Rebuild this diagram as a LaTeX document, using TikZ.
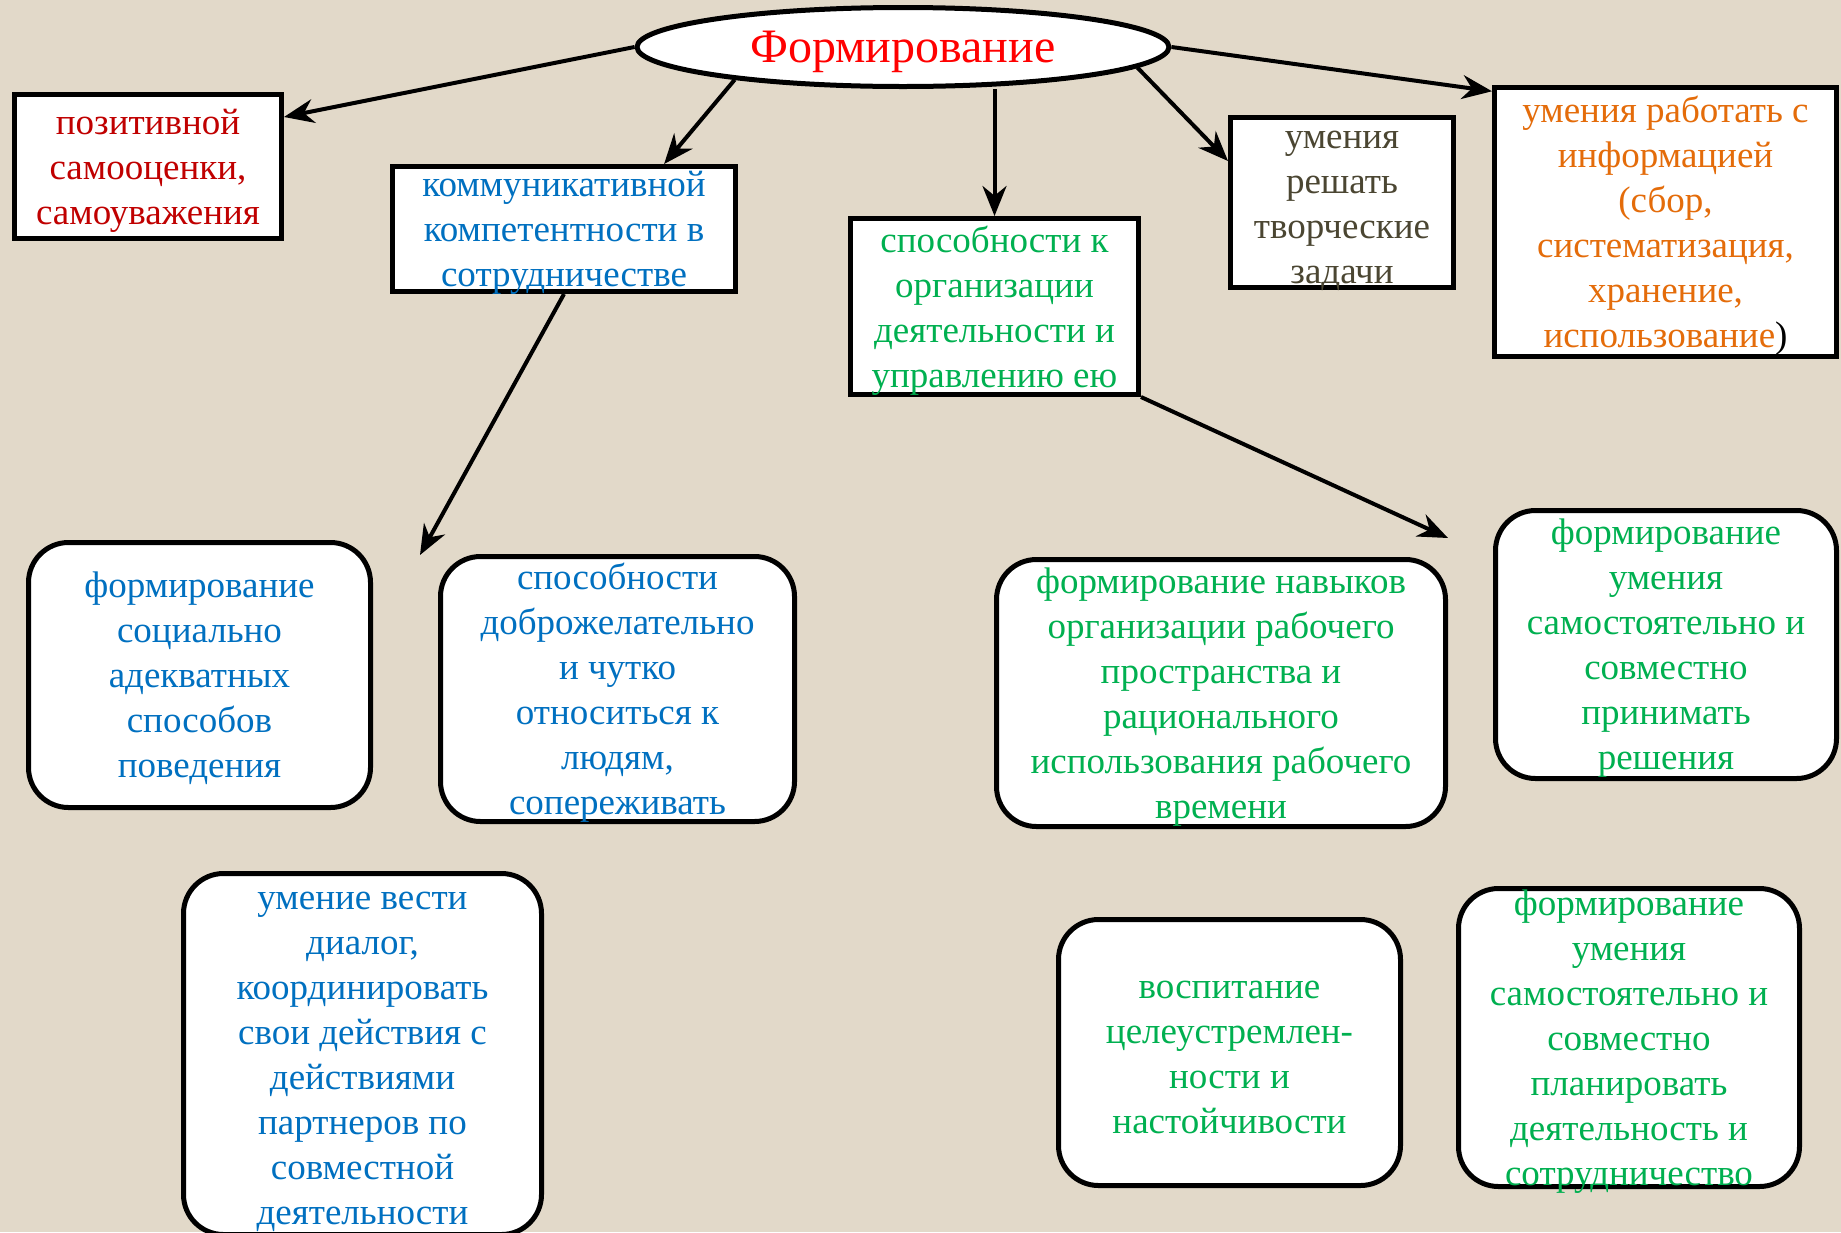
\documentclass[tikz,border=0pt]{standalone}
\usepackage{fontspec}
\setmainfont{Liberation Serif}
\usetikzlibrary{arrows.meta,shapes.geometric}
\definecolor{bgbeige}{HTML}{E2D9C9}
\definecolor{txtred}{HTML}{C00000}
\definecolor{txtblue}{HTML}{0070C0}
\definecolor{txtgreen}{HTML}{00B050}
\definecolor{txtorange}{HTML}{E46C0A}
\definecolor{txtolive}{HTML}{4B4632}
\newcommand{\capstrut}{\rule{0pt}{26pt}}

\begin{document}
\begin{tikzpicture}[x=1pt,y=-1pt,
  sqbox/.style={draw,line width=5pt,fill=white,rectangle,inner sep=0pt,
    align=center,text depth=-4pt,font=\fontsize{37}{45}\selectfont},
  rbox/.style={sqbox,rounded corners=40pt},
  arr/.style={-{Stealth[length=30pt,width=24pt]},line width=4pt}]
  \fill[bgbeige](0,0)rectangle(1841,1232);
  \useasboundingbox(0,0)rectangle(1841,1232);
  \node[draw,ellipse,line width=5pt,fill=white,inner sep=0pt,
    minimum width=532pt,minimum height=79pt,text=red,text depth=0pt,
    font=\fontsize{48}{52}\selectfont](form)at(903,47){Формирование};
  \node[sqbox,minimum width=267pt,minimum height=144pt,text=txtred](poz)
    at(148,166.5){позитивной\\самооценки,\\самоуважения};
  \node[sqbox,minimum width=343pt,minimum height=125pt,text=txtblue](komm)
    at(564,229){коммуникативной\\компетентности в\\сотрудничестве};
  \node[sqbox,minimum width=288pt,minimum height=176pt,text=txtgreen](sposob)
    at(994.5,306.5){способности к\\организации\\деятельности и\\управлению ею};
  \node[sqbox,minimum width=223pt,minimum height=170pt,text=txtolive](resh)
    at(1342,202.5){\capstrut умения\\решать\\творческие\\задачи};
  \node[sqbox,minimum width=342pt,minimum height=269pt,text=txtorange](info)
    at(1665.5,222){умения работать с\\информацией\\(сбор,\\систематизация,\\хранение,\\использование{\color{black})}};
  \node[rbox,minimum width=342pt,minimum height=265pt,text=txtblue](soc)
    at(199.5,675){формирование\\социально\\адекватных\\способов\\поведения};
  \node[rbox,minimum width=354pt,minimum height=265pt,text=txtblue](dobro)
    at(617.5,689){способности\\доброжелательно\\и чутко\\относиться к\\людям,\\сопереживать};
  \node[rbox,minimum width=358pt,minimum height=361pt,text=txtblue](dialog)
    at(362.5,1054){\capstrut умение вести\\диалог,\\координировать\\свои действия с\\действиями\\партнеров по\\совместной\\деятельности};
  \node[rbox,minimum width=449pt,minimum height=267pt,text=txtgreen](navyk)
    at(1221,693){формирование навыков\\организации рабочего\\пространства и\\рационального\\использования рабочего\\времени};
  \node[rbox,minimum width=341pt,minimum height=268pt,text=txtgreen](prinim)
    at(1666,644.5){формирование\\умения\\самостоятельно и\\совместно\\принимать\\решения};
  \node[rbox,minimum width=342pt,minimum height=266pt,text=txtgreen](vospit)
    at(1229.5,1052.5){\capstrut воспитание\\целеустремлен-\\ности и\\настойчивости};
  \node[rbox,minimum width=341pt,minimum height=298pt,text=txtgreen](plan)
    at(1629,1037.5){формирование\\умения\\самостоятельно и\\совместно\\планировать\\деятельность и\\сотрудничество};
  \coordinate(dobroend)at(420,555);
  \coordinate(prinimend)at(1448,538);
  \draw[arr](form.west)--(poz.20);
  \draw[arr](form.191)--(komm.33);
  \draw[arr](form.south -| sposob.north)--(sposob.north);
  \draw[arr](form.-5)--(resh.160);
  \draw[arr](form.east)--(info.143);
  \draw[arr](komm.south)--(dobroend);
  \draw[arr](sposob.south east)--(prinimend);
\end{tikzpicture}
\end{document}
